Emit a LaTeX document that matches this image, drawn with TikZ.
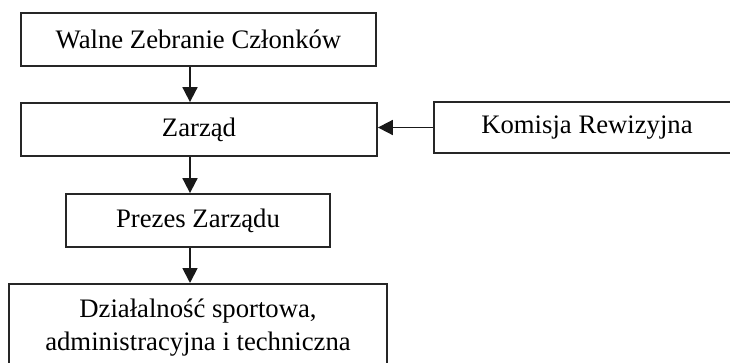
\documentclass[tikz,border=0pt]{standalone}
\usepackage{fontspec}
\setmainfont{Liberation Serif}
\usetikzlibrary{arrows.meta}
\begin{document}
\begin{tikzpicture}[x=1pt,y=-1pt,
  orgbox/.style={draw=black!85, line width=1.8pt, rectangle, inner sep=0pt,
    font=\fontsize{26.7}{33}\selectfont, align=center},
  link/.style={line width=1.8pt, draw=black!90,
    -{Triangle[length=15pt,width=15pt]}}]
  \path[use as bounding box] (0,0) rectangle (730,362);
  \clip (0,0) rectangle (730,362);
  % organisation boxes
  \node[orgbox, minimum width=355pt, minimum height=53pt] (walne) at (198.5,39.5) {Walne Zebranie Członków};
  \node[orgbox, minimum width=356pt, minimum height=53pt] (zarzad) at (199,129.5) {Zarząd};
  \node[orgbox, minimum width=306pt, minimum height=51pt] (komisja) at (587,127.5) {Komisja Rewizyjna};
  \node[orgbox, minimum width=264pt, minimum height=53pt] (prezes) at (198,220.5) {Prezes Zarządu};
  \node[orgbox, minimum width=378pt, minimum height=88pt, anchor=north] (dzial) at (198,283)
    {Działalność sportowa,\\administracyjna i techniczna};
  % reporting lines
  \draw[link] ([xshift=-8.5pt]walne.south) -- ([xshift=-9pt]zarzad.north);
  \draw[link] ([xshift=-9pt]zarzad.south) -- ([xshift=-8pt]prezes.north);
  \draw[link] ([xshift=-8pt]prezes.south) -- ([xshift=-8pt]dzial.north);
  \draw[link] (komisja.west) -- (zarzad.east |- komisja.west);
\end{tikzpicture}
\end{document}
